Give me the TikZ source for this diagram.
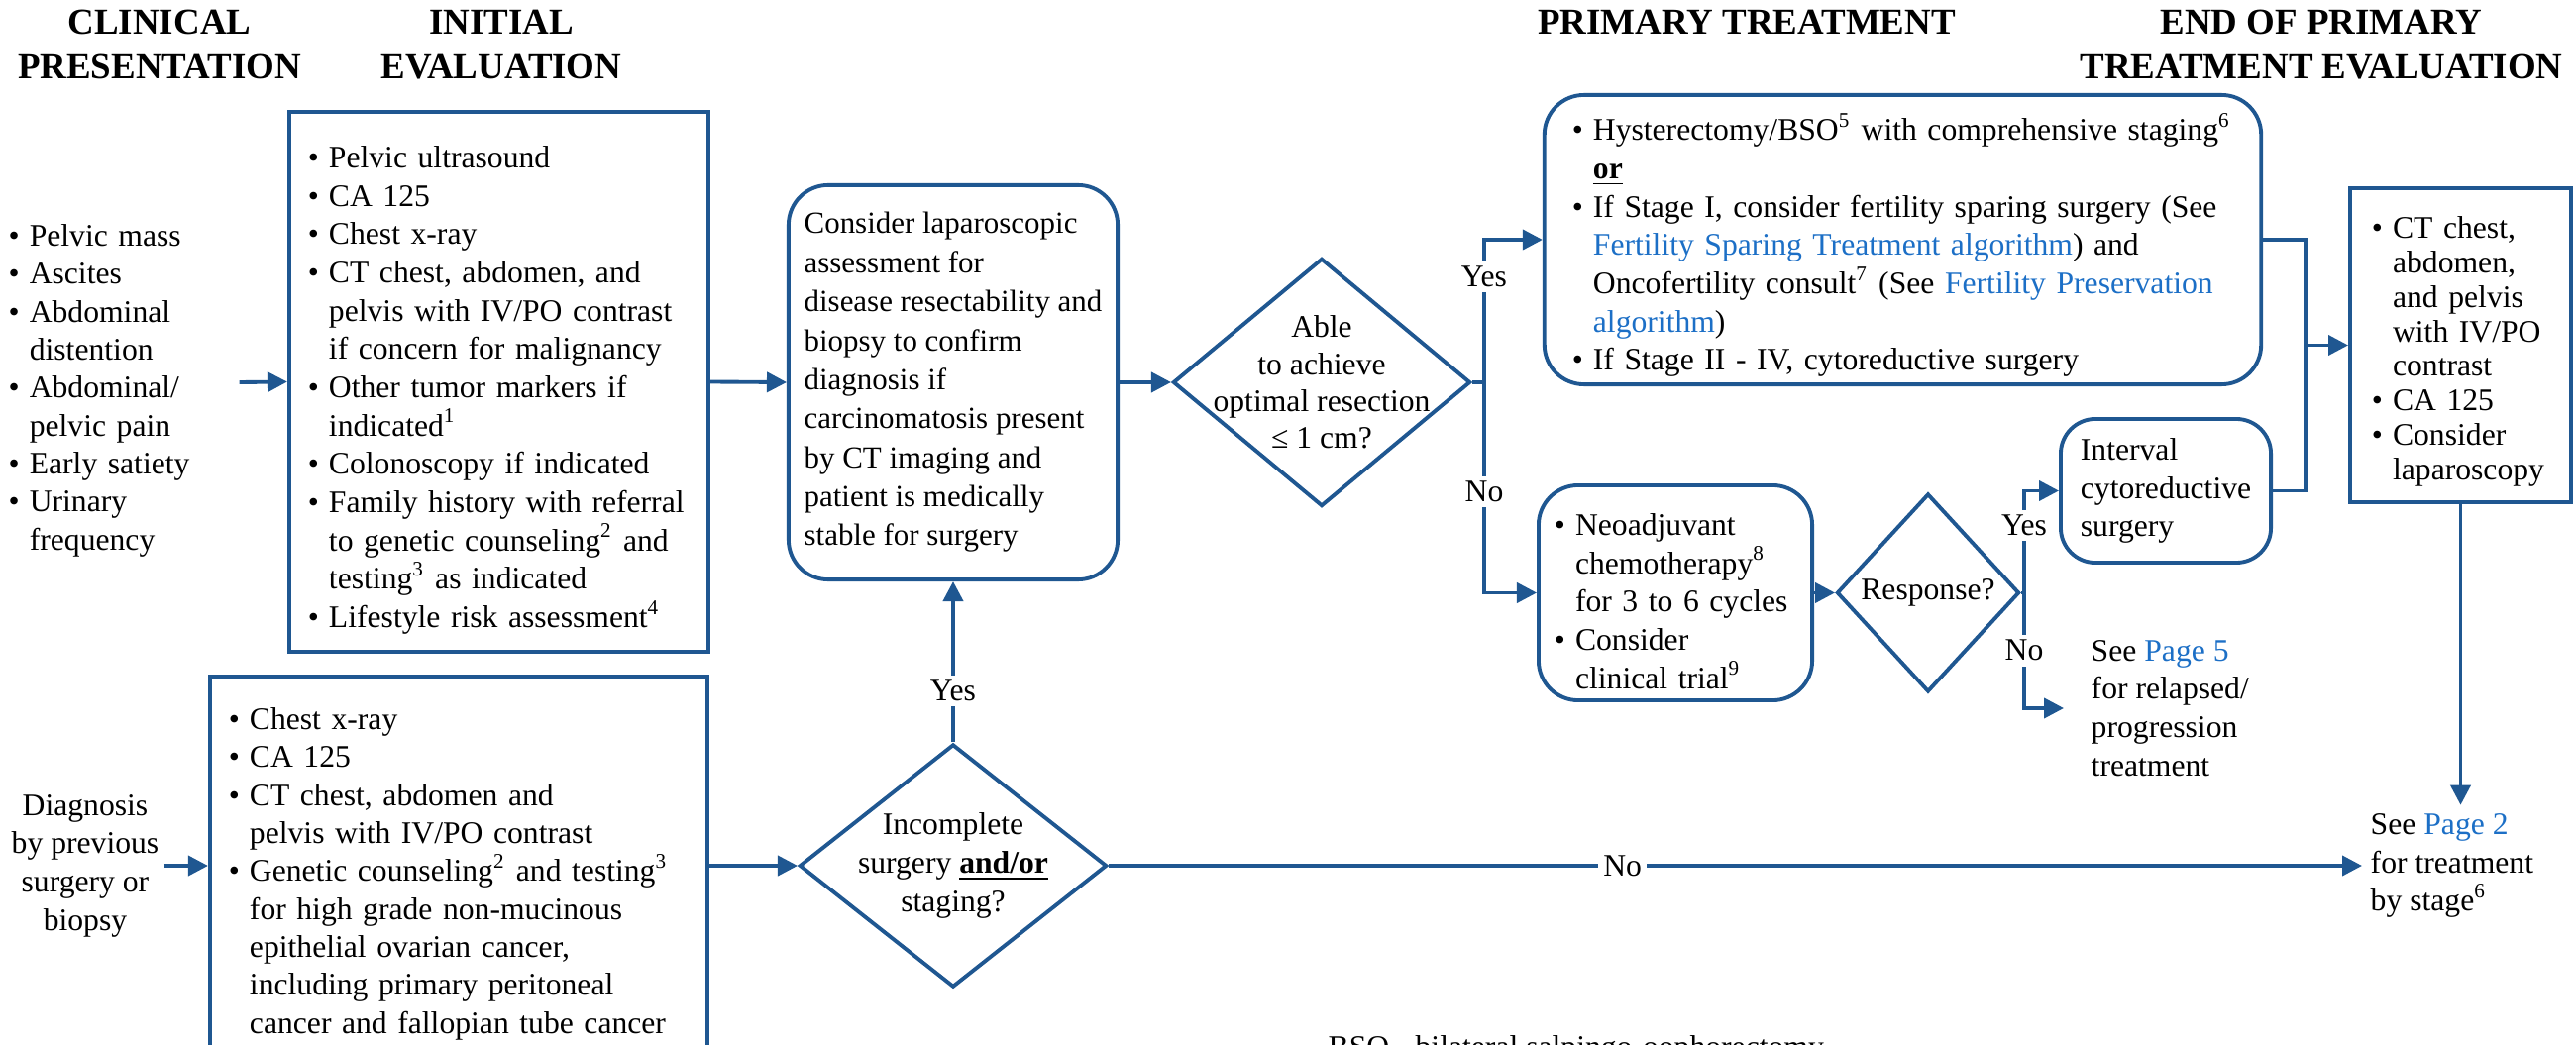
\documentclass[tikz,border=0pt]{standalone}
\usepackage{fontspec}
\setmainfont{Liberation Serif}
\usetikzlibrary{arrows.meta,shapes.geometric}
\definecolor{flow}{HTML}{1F5791}
\definecolor{link}{HTML}{1C6FC6}
\hyphenpenalty=10000
\exhyphenpenalty=10000
\newcommand{\blt}[1]{\par\noindent\hangindent=6pt\hangafter=1\makebox[6pt][l]{\textbullet}{\let\\\newline#1}\par}
\newcommand{\lnk}[1]{\textcolor{link}{#1}}
\tikzset{
  sbox/.style={rectangle,draw=flow,line width=1.1pt,align=left,inner ysep=0pt,font=\fontsize{9}{11}\selectfont},
  rbox/.style={sbox,rounded corners=0.4cm},
  decbox/.style={diamond,draw=flow,line width=1.1pt,inner sep=0pt},
  arr/.style={draw=flow,line width=1.1pt,-{Triangle[length=0.2cm,width=0.2cm]}},
  ln/.style={draw=flow,line width=1.1pt},
  lbl/.style={fill=white,inner sep=1.5pt,font=\fontsize{9}{11}\selectfont},
  txt/.style={inner sep=0pt,align=left,font=\fontsize{9}{11}\selectfont},
  hd/.style={align=center,inner sep=0pt,font=\fontsize{10.5}{13}\selectfont\bfseries}
}
\begin{document}
\begin{tikzpicture}[x=0.01cm,y=-0.01cm]
\useasboundingbox (0,0) rectangle (2600,1055);
\clip (0,0) rectangle (2600,1055);

\node[hd] (hdpres) at (161,45) {CLINICAL\\PRESENTATION};
\node[hd] (hdeval) at (506,45) {INITIAL\\EVALUATION};
\node[hd] (hdprim) at (1763,22) {PRIMARY TREATMENT};
\node[hd] (hdend) at (2343,45) {END OF PRIMARY\\TREATMENT EVALUATION};

\node[txt,anchor=west,text width=2.32cm,font=\fontsize{9}{10.9}\selectfont] (clin) at (8,386) {\blt{Pelvic mass}\blt{Ascites}\blt{Abdominal\\distention}\blt{Abdominal/\\pelvic pain}\blt{Early satiety}\blt{Urinary\\frequency}};
\node[sbox,minimum width=4.23cm,minimum height=5.45cm,text width=3.85cm,inner xsep=0.19cm] (evalA) at (503.5,385.5) {\blt{Pelvic ultrasound}\blt{CA 125}\blt{Chest x-ray}\blt{CT chest, abdomen, and\\pelvis with IV/PO contrast\\if concern for malignancy}\blt{Other tumor markers if\\indicated\textsuperscript{1}}\blt{Colonoscopy if indicated}\blt{Family history with referral\\to genetic counseling\textsuperscript{2} and\\testing\textsuperscript{3} as indicated}\blt{Lifestyle risk assessment\textsuperscript{4}}};
\node[rbox,minimum width=3.32cm,minimum height=3.98cm,font=\fontsize{8.8}{11.2}\selectfont] (lapbox) at (962,386) {Consider laparoscopic\\assessment for\\disease resectability and\\biopsy to confirm\\diagnosis if\\carcinomatosis present\\by CT imaging and\\patient is medically\\stable for surgery};
\node[decbox,minimum width=3cm,minimum height=2.5cm] (optdec) at (1334,386) {};
\node[txt,align=center,font=\fontsize{9}{10.6}\selectfont] (optq) at (optdec) {Able\\to achieve\\optimal resection\\≤ 1 cm?};
\coordinate (oj) at (1498,386);

\node[rbox,minimum width=7.23cm,minimum height=2.92cm,text width=6.67cm,inner xsep=0.28cm] (primbox) at (1920.5,242) {\blt{Hysterectomy/BSO\textsuperscript{5} with comprehensive staging\textsuperscript{6}}\noindent\hspace*{6pt}\underline{\textbf{or}}\blt{If Stage I, consider fertility sparing surgery (See\\\lnk{Fertility Sparing Treatment algorithm}) and\\Oncofertility consult\textsuperscript{7} (See \lnk{Fertility Preservation}\\\lnk{algorithm})}\blt{If Stage II - IV, cytoreductive surgery}};
\node[rbox,minimum width=2.76cm,minimum height=2.17cm,text width=2.44cm,inner xsep=0.16cm] (neobox) at (1691,598.5) {\blt{Neoadjuvant\\chemotherapy\textsuperscript{8}\\for 3 to 6 cycles}\blt{Consider\\clinical trial\textsuperscript{9}}};
\node[decbox,minimum width=1.84cm,minimum height=2cm] (respdec) at (1946,598.5) {};
\node[txt] (respq) at (respdec) {Response?};
\coordinate (rj) at (2043,598.5);
\node[rbox,rounded corners=0.35cm,minimum width=2.12cm,minimum height=1.45cm] (intbox) at (2186,495.5) {Interval\\cytoreductive\\surgery};
\node[txt,anchor=west,inner xsep=0.27cm] (see5) at (2083,715) {See \lnk{Page 5}\\for relapsed/\\progression\\treatment};
\node[sbox,minimum width=2.23cm,minimum height=3.17cm,text width=1.79cm,inner xsep=0.22cm,font=\fontsize{9}{9.9}\selectfont] (endbox) at (2483.5,348.5) {\blt{CT chest,\\abdomen,\\and pelvis\\with IV/PO\\contrast}\blt{CA 125}\blt{Consider\\laparoscopy}};
\coordinate (pj) at (2327,242);
\node[txt,anchor=west,inner sep=0.08cm] (see2) at (2384,874) {See \lnk{Page 2}\\for treatment\\by stage\textsuperscript{6}};

\node[txt,align=center,inner xsep=0.05cm] (diag) at (86,874) {Diagnosis\\by previous\\surgery or\\biopsy};
\node[sbox,minimum width=5.02cm,minimum height=3.82cm,text width=4.64cm,inner xsep=0.19cm,font=\fontsize{9}{10.9}\selectfont] (evalB) at (463,874) {\blt{Chest x-ray}\blt{CA 125}\blt{CT chest, abdomen and\\pelvis with IV/PO contrast}\blt{Genetic counseling\textsuperscript{2} and testing\textsuperscript{3}\\for high grade non-mucinous\\epithelial ovarian cancer,\\including primary peritoneal\\cancer and fallopian tube cancer}};
\node[decbox,minimum width=3.1cm,minimum height=2.45cm] (incdec) at (962,874) {};
\node[txt,align=center] (incq) at (incdec) {Incomplete\\surgery \underline{\textbf{and/or}}\\staging?};
\node[txt,anchor=north west] (bsonote) at (1340,1045) {BSO - bilateral salpingo-oophorectomy};

\draw[arr] (clin.east) -- (evalA.west);
\draw[arr] (evalA.east) -- (lapbox.west);
\draw[arr] (lapbox.east) -- (optdec.west);
\draw[ln] (optdec.east) -- (oj);
\draw[arr] (oj) |- node[lbl,pos=0.37] {Yes} (primbox.west);
\draw[arr] (oj) |- node[lbl,pos=0.26] {No} (neobox.west);
\draw[arr] (neobox.east) -- (respdec.west);
\draw[ln] (respdec.east) -- (rj);
\draw[arr] (rj) |- node[lbl,pos=0.33] {Yes} (intbox.west);
\draw[arr] (rj) |- node[lbl,pos=0.25] {No} (see5.west);
\draw[ln] (primbox.east) -- (pj) -- (pj |- intbox.east) -- (intbox.east);
\draw[arr] (pj |- endbox.west) -- (endbox.west);
\draw[arr] (endbox.south) -- (endbox.south |- see2.north);
\draw[arr] (diag.east) -- (evalB.west);
\draw[arr] (evalB.east) -- (incdec.west);
\draw[arr] (incdec.north) -- node[lbl,pos=0.32] {Yes} (lapbox.south);
\draw[arr] (incdec.east) -- node[lbl,pos=0.41] {No} (see2.west);
\end{tikzpicture}
\end{document}
